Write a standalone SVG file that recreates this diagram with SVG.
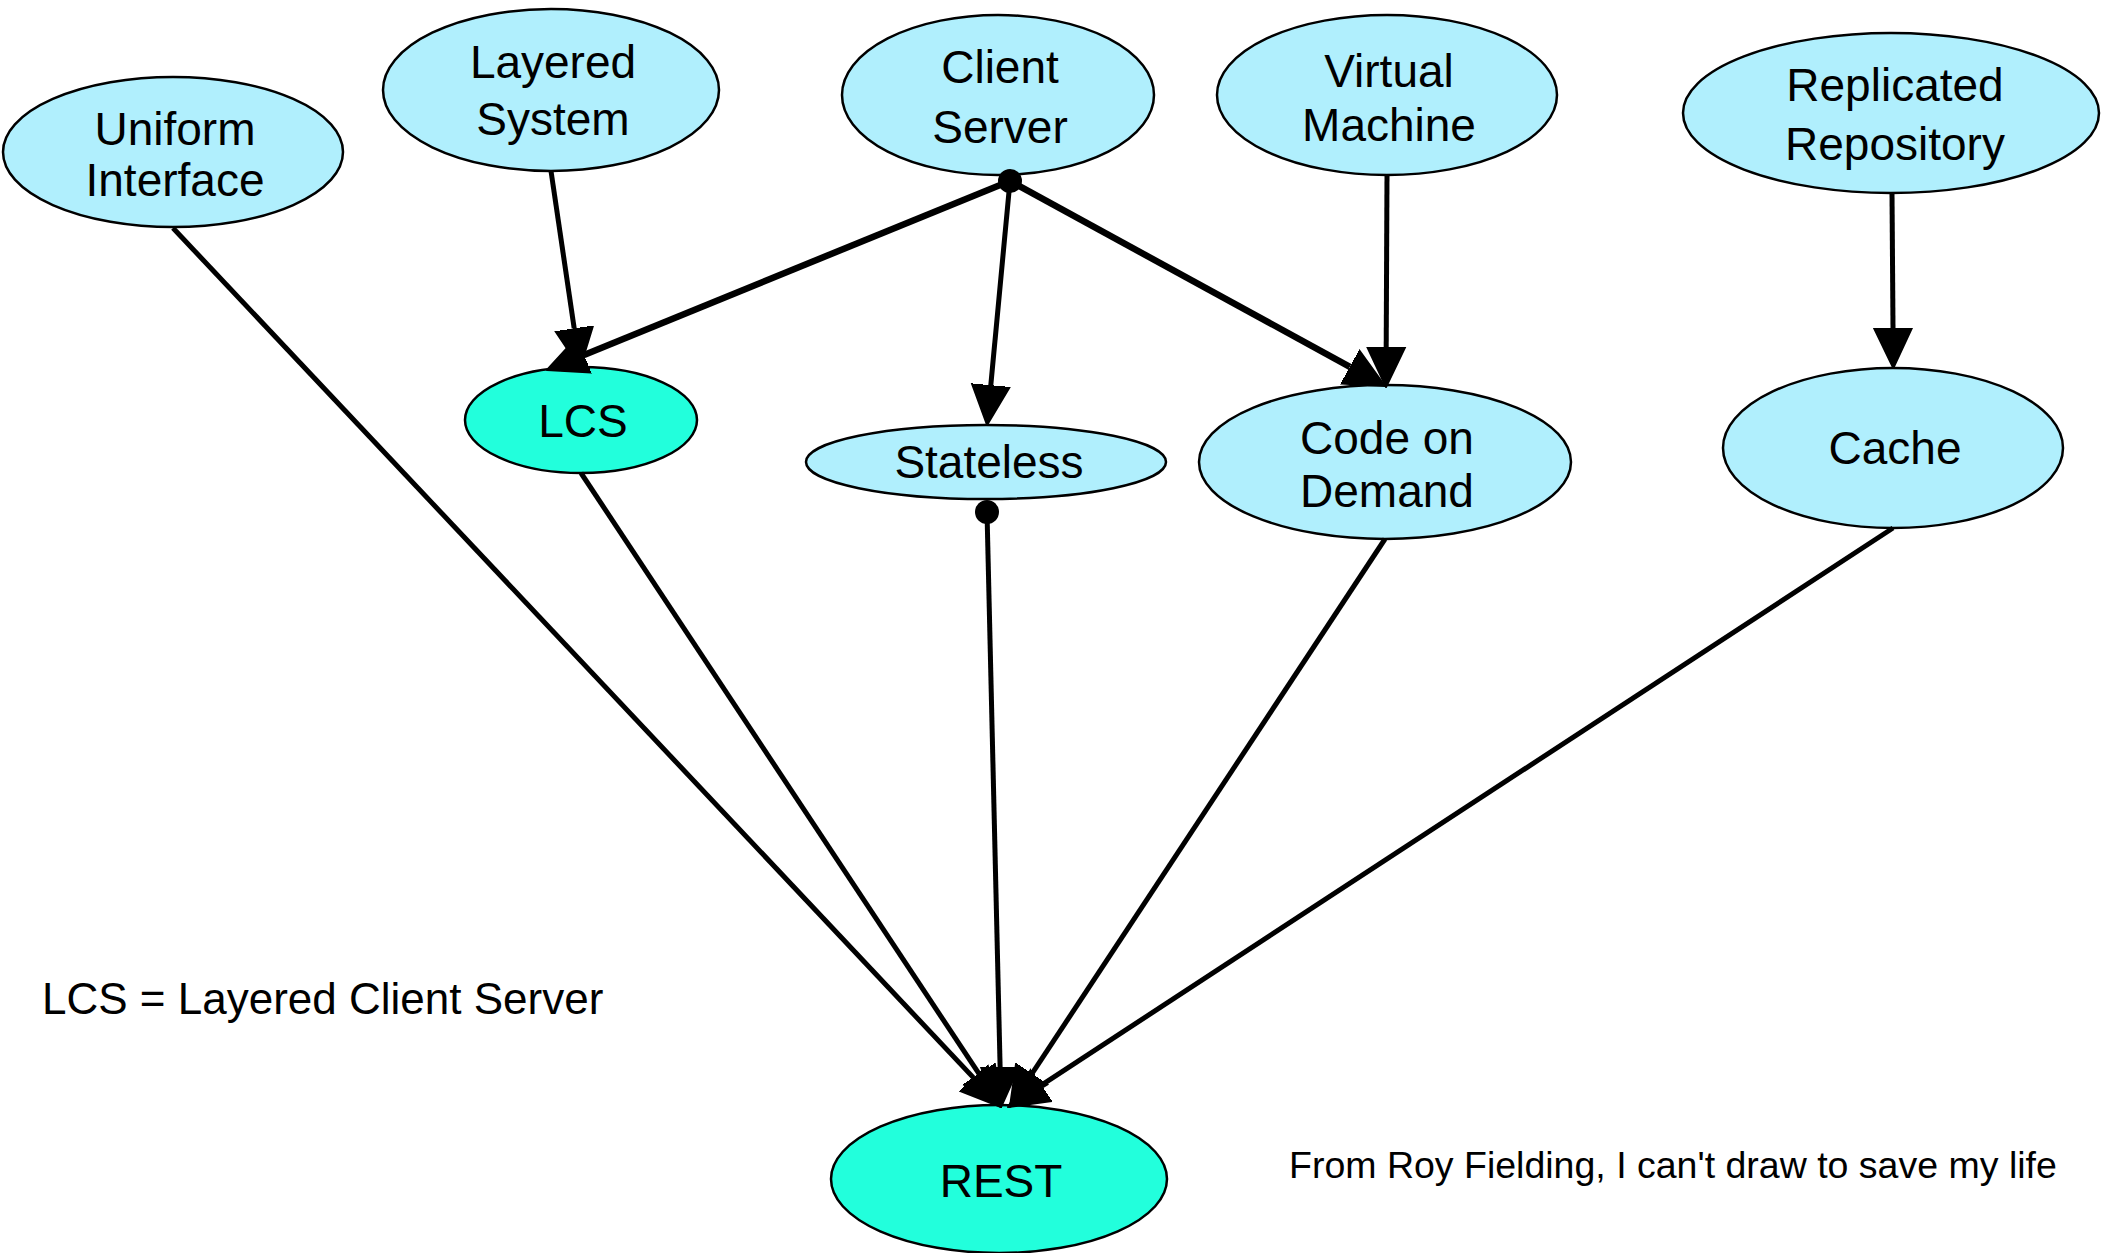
<svg xmlns="http://www.w3.org/2000/svg" width="2101" height="1253" viewBox="0 0 2101 1253">
<style>
.n ellipse{stroke:#000;stroke-width:2.5}
.b{fill:#b0effd}
.g{fill:#22ffdc}
text{font-family:"Liberation Sans",Arial,Helvetica,sans-serif;font-size:46px;fill:#000}
.t{text-anchor:middle}
.note{font-size:44px}
.src{font-size:37.5px}
#edges line{stroke:#000;stroke-width:5;fill:none;marker-end:url(#ah)}
#edges line.thick{stroke-width:6.5}
.dot{fill:#000}
</style>
<defs>
<marker id="ah" markerUnits="userSpaceOnUse" viewBox="0 -21 43 42" markerWidth="43" markerHeight="42" refX="0" refY="0" orient="auto">
<path d="M0,-19 L40,0 L0,19 Z" fill="#000" stroke="#000" stroke-width="2" stroke-linejoin="round"/>
</marker>
</defs>
<rect width="2101" height="1253" fill="#fff"/>
<g id="uniform" class="n"><ellipse class="b" cx="173" cy="152" rx="170" ry="75"/><text class="t" x="175" y="145">Uniform</text><text class="t" x="175" y="196">Interface</text></g>
<g id="layered" class="n"><ellipse class="b" cx="551" cy="90" rx="168" ry="81"/><text class="t" x="553" y="78">Layered</text><text class="t" x="553" y="135">System</text></g>
<g id="clientserver" class="n"><ellipse class="b" cx="998" cy="95" rx="156" ry="80"/><text class="t" x="1000" y="83">Client</text><text class="t" x="1000" y="143">Server</text></g>
<g id="virtual" class="n"><ellipse class="b" cx="1387" cy="95" rx="170" ry="80"/><text class="t" x="1389" y="87">Virtual</text><text class="t" x="1389" y="141">Machine</text></g>
<g id="replicated" class="n"><ellipse class="b" cx="1891" cy="113" rx="208" ry="80"/><text class="t" x="1895" y="101">Replicated</text><text class="t" x="1895" y="160">Repository</text></g>
<g id="lcs" class="n"><ellipse class="g" cx="581" cy="420" rx="116" ry="53"/><text class="t" x="583" y="437">LCS</text></g>
<g id="stateless" class="n"><ellipse class="b" cx="986" cy="462" rx="180" ry="37"/><text class="t" x="989" y="478">Stateless</text></g>
<g id="codeondemand" class="n"><ellipse class="b" cx="1385" cy="462" rx="186" ry="77"/><text class="t" x="1387" y="454">Code on</text><text class="t" x="1387" y="507">Demand</text></g>
<g id="cache" class="n"><ellipse class="b" cx="1893" cy="448" rx="170" ry="80"/><text class="t" x="1895" y="464">Cache</text></g>
<g id="rest" class="n"><ellipse class="g" cx="999" cy="1179" rx="168" ry="74"/><text class="t" x="1001" y="1197">REST</text></g>
<g id="edges">
<line x1="173" y1="228" x2="973.6" y2="1077.9"/>
<line x1="581" y1="473" x2="978.9" y2="1073.7"/>
<line x1="987" y1="512" x2="1000.1" y2="1067"/>
<line x1="1385" y1="539" x2="1032" y2="1073.6"/>
<line x1="1893" y1="528" x2="1041.5" y2="1085.1"/>
<line x1="551" y1="171" x2="574.2" y2="328.4"/>
<line class="thick" x1="1010" y1="181" x2="584" y2="354.9"/>
<line x1="1010" y1="181" x2="990.8" y2="385.2"/>
<line class="thick" x1="1010" y1="181" x2="1349.9" y2="366.8"/>
<line x1="1387" y1="175" x2="1386.2" y2="347"/>
<line x1="1892" y1="193" x2="1893" y2="328"/>
<circle class="dot" cx="1010" cy="181" r="12"/>
<circle class="dot" cx="987" cy="512" r="12"/>
</g>
<text class="note" x="42" y="1014">LCS = Layered Client Server</text>
<text class="src" x="1289" y="1178">From Roy Fielding, I can't draw to save my life</text>
</svg>
